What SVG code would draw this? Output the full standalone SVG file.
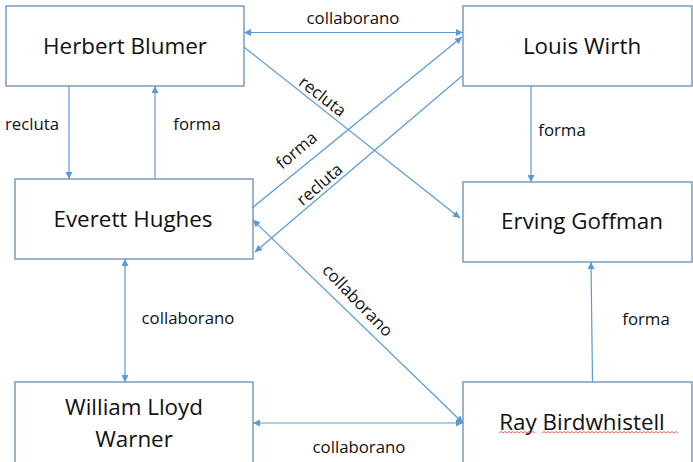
<svg xmlns="http://www.w3.org/2000/svg" width="693" height="462" viewBox="0 0 693 462">
<defs>
<marker id="ah" viewBox="0 0 10 10" refX="10" refY="5" markerWidth="8" markerHeight="7" markerUnits="userSpaceOnUse" orient="auto-start-reverse">
<path d="M0,0 L10,5 L0,10 z" fill="#5B9BD5"/>
</marker>
</defs>
<style>
.box{fill:#fff;stroke:#7393C0;stroke-width:1.4}
.nt{font-family:"Open Sans",Lato,sans-serif;font-size:22.4px;fill:#111;text-anchor:middle}
.lb{font-family:"Open Sans",Lato,sans-serif;font-size:16.8px;fill:#111;text-anchor:middle}
.cn{stroke:#5B9BD5;stroke-width:1.2;fill:none}
.sq{stroke:#E04040;stroke-width:0.8;fill:none}
</style>
<rect width="693" height="462" fill="#fff"/>
<g id="herbert-blumer"><rect class="box" x="6" y="6" width="238" height="80"/><text class="nt" x="125" y="54">Herbert Blumer</text></g>
<g id="louis-wirth"><rect class="box" x="463" y="6" width="229" height="80"/><text class="nt" x="582" y="54">Louis Wirth</text></g>
<g id="everett-hughes"><rect class="box" x="15" y="179" width="238" height="80"/><text class="nt" x="133" y="227">Everett Hughes</text></g>
<g id="erving-goffman"><rect class="box" x="463" y="182" width="229" height="80"/><text class="nt" x="582" y="229">Erving Goffman</text></g>
<g id="william-lloyd-warner"><rect class="box" x="15" y="382" width="238" height="90"/><text class="nt" x="134" y="415">William Lloyd</text><text class="nt" x="134" y="447">Warner</text></g>
<g id="ray-birdwhistell"><rect class="box" x="463" y="382" width="229" height="90"/><text class="nt" x="582" y="430">Ray Birdwhistell</text>
<path class="sq" d="M499,433 l2,-1.5 l2,1.5 l2,-1.5 l2,1.5 l2,-1.5 l2,1.5 l2,-1.5 l2,1.5 l2,-1.5 l2,1.5 l2,-1.5 l2,1.5 l2,-1.5 l2,1.5 l2,-1.5 l2,1.5 l2,-1.5 l2,1.5"/>
<path class="sq" d="M542,433 l2,-1.5 l2,1.5 l2,-1.5 l2,1.5 l2,-1.5 l2,1.5 l2,-1.5 l2,1.5 l2,-1.5 l2,1.5 l2,-1.5 l2,1.5 l2,-1.5 l2,1.5 l2,-1.5 l2,1.5 l2,-1.5 l2,1.5 l2,-1.5 l2,1.5 l2,-1.5 l2,1.5 l2,-1.5 l2,1.5 l2,-1.5 l2,1.5 l2,-1.5 l2,1.5 l2,-1.5 l2,1.5 l2,-1.5 l2,1.5 l2,-1.5 l2,1.5 l2,-1.5 l2,1.5 l2,-1.5 l2,1.5 l2,-1.5 l2,1.5 l2,-1.5 l2,1.5 l2,-1.5 l2,1.5 l2,-1.5 l2,1.5 l2,-1.5 l2,1.5 l2,-1.5 l2,1.5 l2,-1.5 l2,1.5 l2,-1.5 l2,1.5 l2,-1.5 l2,1.5 l2,-1.5 l2,1.5 l2,-1.5 l2,1.5 l2,-1.5 l2,1.5 l2,-1.5 l2,1.5 l2,-1.5 l2,1.5 l2,-1.5 l2,1.5"/>
</g>
<g id="connectors">
<line class="cn" x1="244" y1="32.5" x2="463" y2="32.5" marker-start="url(#ah)" marker-end="url(#ah)"/>
<line class="cn" x1="244" y1="47" x2="460" y2="218" marker-end="url(#ah)"/>
<line class="cn" x1="252" y1="208" x2="462" y2="37" marker-end="url(#ah)"/>
<line class="cn" x1="462" y1="76" x2="255" y2="252" marker-end="url(#ah)"/>
<line class="cn" x1="69" y1="86" x2="69" y2="179" marker-end="url(#ah)"/>
<line class="cn" x1="155" y1="179" x2="155" y2="86" marker-end="url(#ah)"/>
<line class="cn" x1="531" y1="86" x2="531" y2="182" marker-end="url(#ah)"/>
<line class="cn" x1="592.5" y1="382" x2="591" y2="262" marker-end="url(#ah)"/>
<line class="cn" x1="125" y1="259" x2="125" y2="382" marker-start="url(#ah)" marker-end="url(#ah)"/>
<line class="cn" x1="253" y1="220" x2="463" y2="423" marker-start="url(#ah)" marker-end="url(#ah)"/>
<line class="cn" x1="253" y1="423" x2="463" y2="423" marker-start="url(#ah)" marker-end="url(#ah)"/>
<text class="lb" x="353" y="24">collaborano</text>
<text class="lb" transform="translate(322,97) rotate(38)" y="5">recluta</text>
<text class="lb" transform="translate(297,151) rotate(-40)" y="5">forma</text>
<text class="lb" transform="translate(320,185) rotate(-41)" y="5">recluta</text>
<text class="lb" transform="translate(357,301) rotate(46)" y="5">collaborano</text>
<text class="lb" x="32" y="130">recluta</text>
<text class="lb" x="197" y="130">forma</text>
<text class="lb" x="562" y="136">forma</text>
<text class="lb" x="646" y="325">forma</text>
<text class="lb" x="188" y="324">collaborano</text>
<text class="lb" x="359" y="453">collaborano</text>
</g>
</svg>
